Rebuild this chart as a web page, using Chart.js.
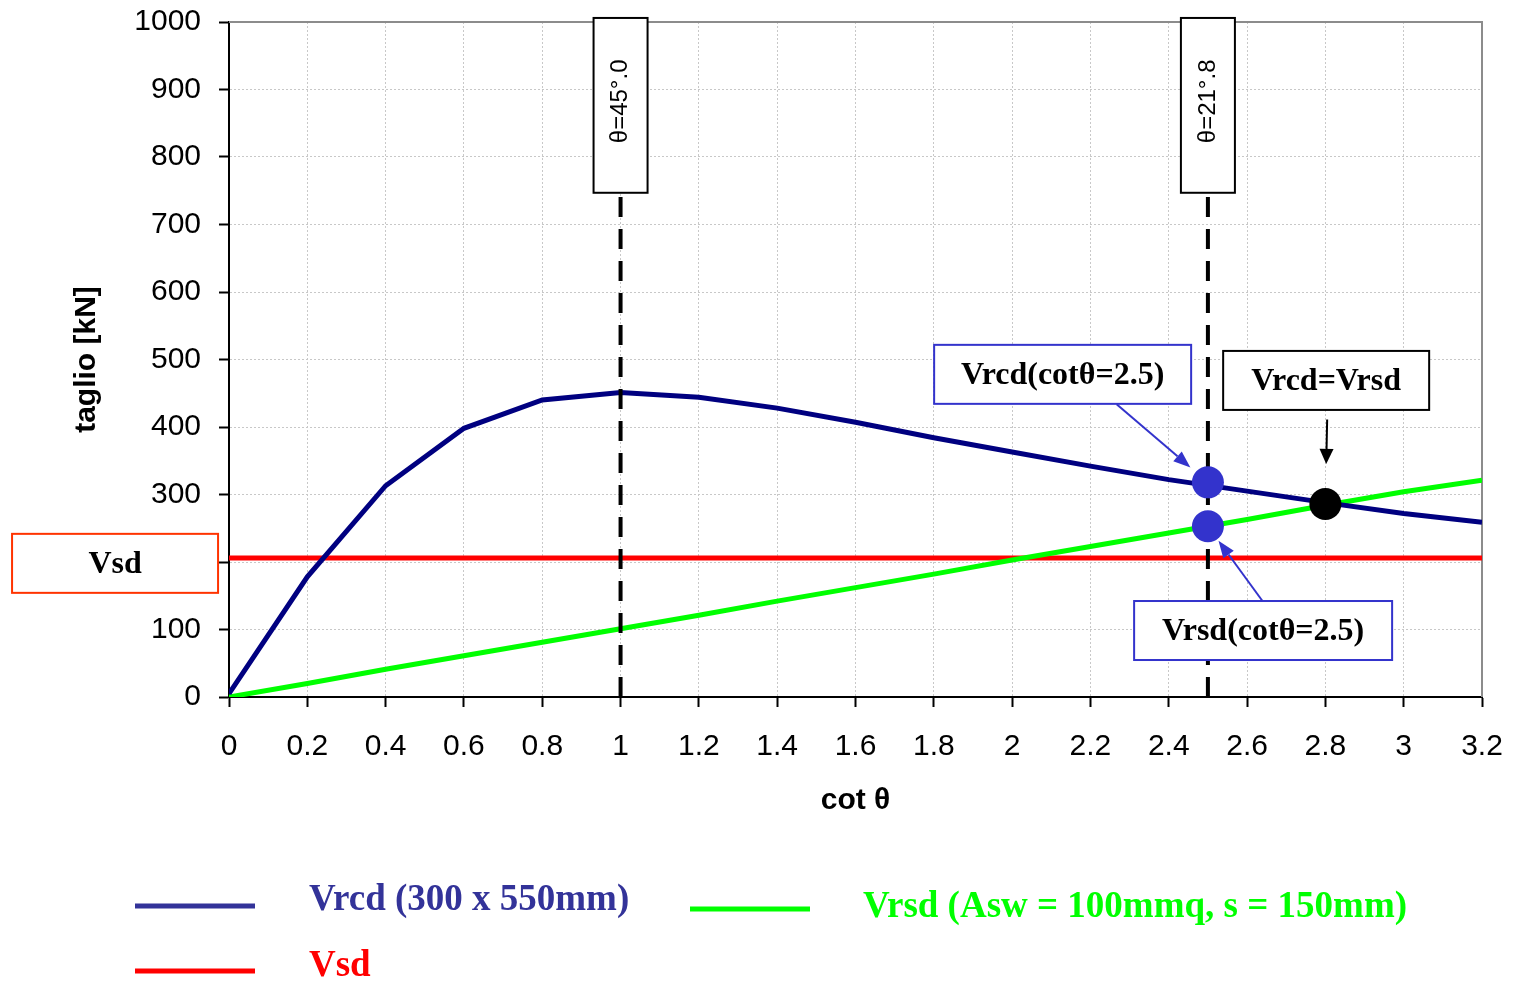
<!DOCTYPE html>
<html>
<head>
<meta charset="utf-8">
<title>Vrcd / Vrsd / Vsd – cot θ</title>
<script src="https://cdn.jsdelivr.net/npm/chart.js@4/dist/chart.umd.min.js"></script>
<style>
  html, body { margin: 0; padding: 0; background: #ffffff; }
  canvas { display: block; }
</style>
</head>
<body>
<canvas id="chart" width="1513" height="982"></canvas>
<script>
// ---- data ----
const cotTheta = [0, 0.2, 0.4, 0.6, 0.8, 1.0, 1.2, 1.4, 1.6, 1.8, 2.0, 2.2, 2.4, 2.6, 2.8, 3.0, 3.2];
const vrcd = [5, 178, 313, 398, 440, 451, 444, 428, 407, 384, 363, 342, 322, 305, 288, 272, 259];
const vrsd = [0, 20, 41, 61, 81, 101, 121, 142, 162, 182, 203, 223, 243, 263, 284, 304, 321];
const vsd = 206;

const xTicks = [0, 0.2, 0.4, 0.6, 0.8, 1, 1.2, 1.4, 1.6, 1.8, 2, 2.2, 2.4, 2.6, 2.8, 3, 3.2];
const yTicks = [0, 100, 200, 300, 400, 500, 600, 700, 800, 900, 1000];

const thetaCot = [1, 2.5];
const thetaLabels = ['θ=45°.0', 'θ=21°.8'];
const thetaLineTop = 747;     // kN level where the marker line meets its label box
const thetaBoxTop = 1006;

const cotLimit = 2.5;
const vrcdAtLimit = 318;
const vrsdAtLimit = 253;
const crossCot = 2.8;
const crossV = 286;

const seriesNames = ['Vrcd (300 x 550mm)', 'Vrsd (Asw = 100mmq, s = 150mm)', 'Vsd'];
const calloutTexts = ['Vsd', 'Vrcd(cotθ=2.5)', 'Vrcd=Vrsd', 'Vrsd(cotθ=2.5)'];

// ---- colours ----
const NAVY = '#000080';
const GREEN = '#00FF00';
const RED = '#FF0000';
const DOT_BLUE = '#3333CC';
const LEGEND_NAVY = '#333399';

const SANS = '"Liberation Sans", Arial, sans-serif';
const SERIF = '"Liberation Serif", "Times New Roman", serif';

const pts = (xs, ys) => xs.map((x, i) => ({ x, y: ys[i] }));

function drawArrow(ctx, x1, y1, x2, y2, color, width, headLen, headW) {
  const a = Math.atan2(y2 - y1, x2 - x1);
  const bx = x2 - headLen * Math.cos(a);
  const by = y2 - headLen * Math.sin(a);
  ctx.save();
  ctx.strokeStyle = color;
  ctx.lineWidth = width;
  ctx.beginPath();
  ctx.moveTo(x1, y1);
  ctx.lineTo(bx, by);
  ctx.stroke();
  ctx.fillStyle = color;
  ctx.beginPath();
  ctx.moveTo(x2, y2);
  ctx.lineTo(bx + (headW / 2) * Math.sin(a), by - (headW / 2) * Math.cos(a));
  ctx.lineTo(bx - (headW / 2) * Math.sin(a), by + (headW / 2) * Math.cos(a));
  ctx.closePath();
  ctx.fill();
  ctx.restore();
}

// Callout boxes: centre in data units, size in px, optional arrow to a data point.
const callouts = [
  { text: calloutTexts[0], cx: -0.291, cy: 198, w: 206, h: 59, border: '#FF3300' },
  { text: calloutTexts[1], cx: 2.129, cy: 478, w: 257, h: 59, border: DOT_BLUE,
    arrow: { dx: 54, dy: 30, tx: cotLimit, ty: vrcdAtLimit, gap: 23, color: DOT_BLUE, head: 17, headW: 13 } },
  { text: calloutTexts[2], cx: 2.802, cy: 469, w: 206, h: 59, border: '#000000',
    arrow: { dx: 1, dy: 39, tx: crossCot, ty: crossV, gap: 40, color: '#000000', head: 15, headW: 14 } },
  { text: calloutTexts[3], cx: 2.641, cy: 98.5, w: 258, h: 59, border: DOT_BLUE,
    arrow: { dx: -1, dy: -30, tx: cotLimit, ty: vrsdAtLimit, gap: 18, color: DOT_BLUE, head: 17, headW: 13 } }
];

const annotations = {
  id: 'annotations',
  beforeDraw(chart) {
    const ctx = chart.ctx;
    ctx.save();
    ctx.fillStyle = '#ffffff';
    ctx.fillRect(0, 0, chart.width, chart.height);
    ctx.restore();
  },
  beforeDatasetsDraw(chart) {
    // solid grey frame on the top and right of the plot
    const { ctx, chartArea: a } = chart;
    ctx.save();
    ctx.strokeStyle = '#8c8c8c';
    ctx.lineWidth = 2;
    ctx.beginPath();
    ctx.moveTo(a.left, a.top);
    ctx.lineTo(a.right, a.top);
    ctx.lineTo(a.right, a.bottom);
    ctx.stroke();
    ctx.restore();
  },
  afterDatasetsDraw(chart) {
    const { ctx, scales: { x, y } } = chart;

    // θ label boxes on top of the dashed marker lines
    thetaCot.forEach((c, i) => {
      const xc = x.getPixelForValue(c);
      const top = y.getPixelForValue(thetaBoxTop);
      const bot = y.getPixelForValue(thetaLineTop);
      const w = 54;
      ctx.save();
      ctx.fillStyle = '#ffffff';
      ctx.fillRect(xc - w / 2, top, w, bot - top);
      ctx.strokeStyle = '#000000';
      ctx.lineWidth = 2;
      ctx.strokeRect(xc - w / 2, top, w, bot - top);
      ctx.translate(xc, (top + bot) / 2);
      ctx.rotate(-Math.PI / 2);
      ctx.fillStyle = '#000000';
      ctx.font = '24px ' + SANS;
      ctx.textAlign = 'center';
      ctx.textBaseline = 'middle';
      ctx.fillText(thetaLabels[i], 4, 0);
      ctx.restore();
    });

    // callout boxes and their arrows
    callouts.forEach(c => {
      const cx = x.getPixelForValue(c.cx);
      const cy = y.getPixelForValue(c.cy);
      ctx.save();
      ctx.fillStyle = '#ffffff';
      ctx.fillRect(cx - c.w / 2, cy - c.h / 2, c.w, c.h);
      ctx.strokeStyle = c.border;
      ctx.lineWidth = 2;
      ctx.strokeRect(cx - c.w / 2, cy - c.h / 2, c.w, c.h);
      ctx.fillStyle = '#000000';
      ctx.font = 'bold 32px ' + SERIF;
      ctx.textAlign = 'center';
      ctx.textBaseline = 'middle';
      ctx.fillText(c.text, cx, cy + 1);
      ctx.restore();
      if (c.arrow) {
        const ar = c.arrow;
        const sx = cx + ar.dx, sy = cy + ar.dy;
        const tx = x.getPixelForValue(ar.tx), ty = y.getPixelForValue(ar.ty);
        const d = Math.hypot(tx - sx, ty - sy);
        const ex = tx - (tx - sx) * ar.gap / d;
        const ey = ty - (ty - sy) * ar.gap / d;
        drawArrow(ctx, sx, sy, ex, ey, ar.color, 2, ar.head, ar.headW);
      }
    });
  },
  afterDraw(chart) {
    // legend below the axis title
    const ctx = chart.ctx;
    const items = [
      { label: seriesNames[0], color: LEGEND_NAVY, x1: 135, x2: 255, ly: 906, tx: 309, ty: 900 },
      { label: seriesNames[1], color: GREEN, x1: 690, x2: 810, ly: 909, tx: 863, ty: 907 },
      { label: seriesNames[2], color: RED, x1: 135, x2: 255, ly: 971, tx: 309, ty: 966 }
    ];
    ctx.save();
    items.forEach(it => {
      ctx.strokeStyle = it.color;
      ctx.lineWidth = 5;
      ctx.beginPath();
      ctx.moveTo(it.x1, it.ly);
      ctx.lineTo(it.x2, it.ly);
      ctx.stroke();
      ctx.fillStyle = it.color;
      ctx.font = 'bold 37px ' + SERIF;
      ctx.textAlign = 'left';
      ctx.textBaseline = 'middle';
      ctx.fillText(it.label, it.tx, it.ty);
    });
    ctx.restore();
  }
};

const chart = new Chart(document.getElementById('chart'), {
  type: 'line',
  data: {
    datasets: [
      { label: seriesNames[0], data: pts(cotTheta, vrcd), borderColor: NAVY, borderWidth: 5,
        pointRadius: 0, tension: 0, order: 3 },
      { label: seriesNames[1], data: pts(cotTheta, vrsd), borderColor: GREEN, borderWidth: 5,
        pointRadius: 0, tension: 0, order: 3 },
      { label: seriesNames[2], data: [{ x: xTicks[0], y: vsd }, { x: xTicks[xTicks.length - 1], y: vsd }],
        borderColor: RED, borderWidth: 5, pointRadius: 0, order: 3 },
      { label: 'cot θ = 1', data: [{ x: thetaCot[0], y: 0 }, { x: thetaCot[0], y: thetaLineTop }],
        borderColor: '#000000', borderWidth: 4, borderDash: [20, 12], pointRadius: 0, order: 2 },
      { label: 'cot θ = 2.5', data: [{ x: thetaCot[1], y: 0 }, { x: thetaCot[1], y: thetaLineTop }],
        borderColor: '#000000', borderWidth: 4, borderDash: [20, 12], pointRadius: 0, order: 2 },
      { label: 'limite', data: [{ x: cotLimit, y: vrcdAtLimit }, { x: cotLimit, y: vrsdAtLimit }],
        showLine: false, pointRadius: 16, pointBackgroundColor: DOT_BLUE, pointBorderWidth: 0,
        order: 1, clip: false },
      { label: 'Vrcd=Vrsd', data: [{ x: crossCot, y: crossV }],
        showLine: false, pointRadius: 16, pointBackgroundColor: '#000000', pointBorderWidth: 0,
        order: 1, clip: false }
    ]
  },
  options: {
    responsive: false,
    animation: false,
    devicePixelRatio: 1,
    layout: { padding: { top: 22, right: 31, left: 0, bottom: 0 } },
    plugins: { legend: { display: false }, tooltip: { enabled: false } },
    elements: { line: { borderCapStyle: 'butt' } },
    scales: {
      x: {
        type: 'linear',
        min: 0,
        max: 3.2,
        afterBuildTicks: s => { s.ticks = xTicks.map(v => ({ value: v })); },
        afterFit: s => { s.height = 285; s.paddingLeft = 0; s.paddingRight = 0; },
        ticks: {
          autoSkip: false, maxRotation: 0, minRotation: 0,
          color: '#000000', padding: 22,
          font: { family: SANS, size: 30 },
          callback: v => String(v)
        },
        grid: {
          color: '#c8c8c8', lineWidth: 1,
          tickColor: '#000000', tickLength: 10, tickWidth: 2, tickBorderDash: []
        },
        border: { display: true, color: '#000000', width: 2, dash: [2, 2] },
        title: {
          display: true, text: 'cot θ', color: '#000000',
          font: { family: SANS, size: 30, weight: 'bold' },
          padding: { top: 0, bottom: 163 }
        }
      },
      y: {
        type: 'linear',
        min: 0,
        max: 1000,
        afterBuildTicks: s => { s.ticks = yTicks.map(v => ({ value: v })); },
        afterFit: s => { s.width = 229; s.paddingTop = 0; s.paddingBottom = 0; },
        ticks: {
          color: '#000000', padding: 18,
          font: { family: SANS, size: 30 },
          callback: v => String(v)
        },
        grid: {
          color: '#c8c8c8', lineWidth: 1,
          tickColor: '#000000', tickLength: 10, tickWidth: 2, tickBorderDash: []
        },
        border: { display: true, color: '#000000', width: 2, dash: [2, 2] },
        title: {
          display: true, text: 'taglio [kN]', color: '#000000',
          font: { family: SANS, size: 30, weight: 'bold' },
          padding: { top: 69, bottom: 0 }
        }
      }
    }
  },
  plugins: [annotations]
});
</script>
</body>
</html>
